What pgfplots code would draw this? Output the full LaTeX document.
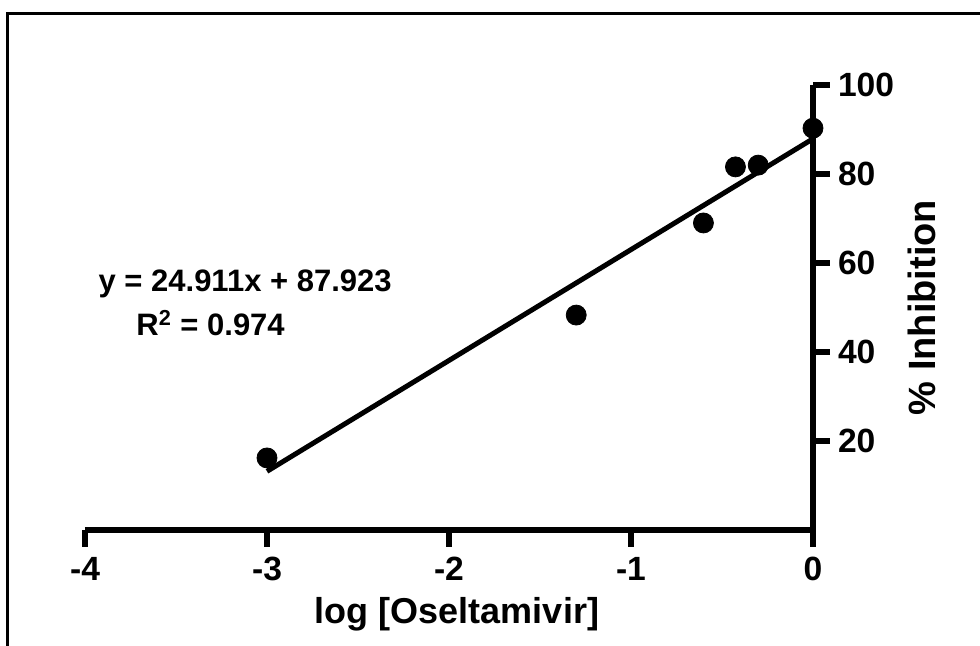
\documentclass[border=0pt]{standalone}
\usepackage{fontspec}
\setmainfont{Liberation Sans}
\usepackage{pgfplots}
\pgfplotsset{compat=1.18}
\begin{document}
\begin{tikzpicture}
\useasboundingbox (-42.5pt,-57.5pt) rectangle (447.5pt,265pt);
\draw[line width=1.5pt] (-38.5pt,-60pt) -- (-38.5pt,258.5pt) -- (450pt,258.5pt);
\begin{axis}[
  at={(0pt,0pt)}, anchor=south west,
  scale only axis, width=364pt, height=222.5pt,
  xmin=-4, xmax=0, ymin=0, ymax=100,
  clip=false,
  axis x line*=bottom, axis y line*=right,
  axis line style={line width=3pt},
  major tick length=0pt,
  tick align=outside,
  xtick={-4,-3,-2,-1,0}, xticklabels={-4,-3,-2,-1,0},
  ytick={20,40,60,80,100}, yticklabels={20,40,60,80,100},
  tick label style={font=\fontsize{16.8}{20}\selectfont\bfseries},
  xticklabel style={yshift=-10pt},
  yticklabel style={xshift=9pt},
]
\addplot[only marks, mark=*, mark size=5pt, black] coordinates {
  (-3,16.2) (-1.301,48.3) (-0.602,69.0) (-0.426,81.6) (-0.301,82.0) (0,90.3)
};
\addplot[black, line width=2.5pt, no marks] coordinates {
  (-3,13.19) (0,87.923)
};
\pgfplotsinvokeforeach{-4,-3,-2,-1,0}{
  \draw[black, line width=3.4pt] (axis cs:#1,0) -- ++(0pt,-8.5pt);
}
\pgfplotsinvokeforeach{20,40,60,80,100}{
  \draw[black, line width=3.4pt] (axis cs:0,#1) -- ++(8.5pt,0pt);
}
\node[font=\fontsize{15.5}{18}\selectfont\bfseries] at (axis cs:-3.12,55.3) {y = 24.911x + 87.923};
\node[font=\fontsize{15.5}{18}\selectfont\bfseries] at (axis cs:-3.31,46.5) {R\textsuperscript{2} = 0.974};
\node[font=\fontsize{18}{21}\selectfont\bfseries] at (axis description cs:0.511,-0.19) {log [Oseltamivir]};
\node[font=\fontsize{19}{22}\selectfont\bfseries, rotate=90] at (axis description cs:1.15,0.5) {\% Inhibition};
\end{axis}
\end{tikzpicture}
\end{document}
